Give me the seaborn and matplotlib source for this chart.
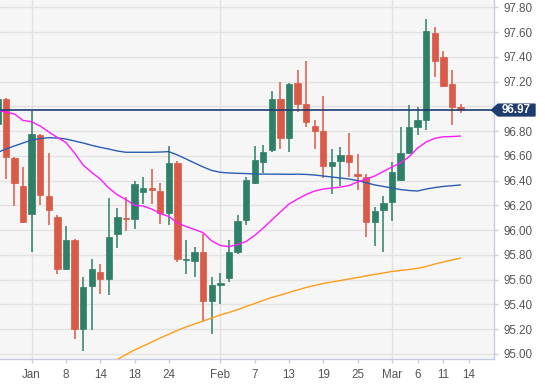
import numpy as np
import pandas as pd
import matplotlib
matplotlib.use("Agg")
import matplotlib.pyplot as plt
import matplotlib.transforms as mtransforms
from matplotlib.patches import Polygon
import seaborn as sns

# ---------------- data (trading-day index, 0 = 2 Jan) ----------------
day_index = list(range(-4, 51))

opens = [96.86, 97.06, 96.585, 96.357, 96.13, 96.77, 96.276, 96.108, 95.69, 95.918,
         95.20, 95.551, 95.662, 95.603, 95.966, 96.10, 96.09, 96.31, 96.335, 96.318,
         96.136, 96.54, 95.755, 95.753, 95.826, 95.43, 95.56, 95.613, 95.82, 96.082,
         96.378, 96.553, 96.647, 97.057, 96.742, 97.186, 97.017, 96.839, 96.80, 96.52,
         96.561, 96.607, 96.445, 96.432, 96.068, 96.163, 96.225, 96.405, 96.621, 96.831,
         96.89, 97.595, 97.396, 97.178, 96.997]
highs = [97.10, 97.07, 96.59, 96.508, 96.965, 96.78, 96.62, 96.12, 96.033, 95.93,
         95.62, 95.764, 95.726, 96.257, 96.176, 96.27, 96.40, 96.427, 96.49, 96.38,
         96.68, 96.558, 95.92, 95.866, 95.966, 95.62, 95.656, 95.92, 96.12, 96.43,
         96.68, 96.688, 97.124, 97.194, 97.185, 97.294, 97.366, 96.89, 97.084, 96.653,
         96.669, 96.782, 96.613, 96.453, 96.19, 96.278, 96.548, 96.831, 97.01, 96.992,
         97.703, 97.643, 97.447, 97.294, 97.016]
lows = [96.80, 96.41, 96.195, 96.06, 95.82, 96.20, 96.04, 95.646, 95.68, 95.118,
        95.026, 95.193, 95.482, 95.474, 95.853, 95.995, 96.007, 96.21, 96.21, 96.05,
        96.04, 95.745, 95.643, 95.62, 95.26, 95.16, 95.40, 95.58, 95.81, 96.04,
        96.37, 96.459, 96.629, 96.653, 96.63, 96.952, 96.836, 96.655, 96.419, 96.29,
        96.357, 96.427, 96.324, 95.947, 95.874, 95.821, 96.076, 96.40, 96.615, 96.768,
        96.809, 97.239, 97.16, 96.849, 96.945]
closes = [97.06, 96.59, 96.38, 96.063, 96.777, 96.28, 96.163, 95.69, 95.918, 95.20,
          95.543, 95.689, 95.603, 95.947, 96.108, 96.09, 96.37, 96.338, 96.325, 96.136,
          96.54, 95.765, 95.765, 95.826, 95.43, 95.557, 95.575, 95.821, 96.076, 96.405,
          96.567, 96.634, 97.057, 96.742, 97.18, 97.019, 96.871, 96.80, 96.52, 96.548,
          96.607, 96.548, 96.44, 96.068, 96.155, 96.217, 96.467, 96.621, 96.831, 96.89,
          97.609, 97.369, 97.164, 96.997, 96.97]

ma_fast = [96.966, 96.954, 96.938, 96.886, 96.876, 96.841, 96.793, 96.748, 96.708, 96.623,
           96.526, 96.466, 96.413, 96.34, 96.284, 96.247, 96.20, 96.195, 96.17, 96.134,
           96.11, 96.058, 96.029, 96.005, 95.979, 95.912, 95.876, 95.866, 95.884, 95.908,
           95.957, 96.017, 96.082, 96.147, 96.211, 96.251, 96.288, 96.316, 96.332, 96.34,
           96.348, 96.36, 96.389, 96.413, 96.437, 96.474, 96.51, 96.542, 96.593, 96.663,
           96.712, 96.742, 96.754, 96.756, 96.76]
ma_mid = [96.627, 96.655, 96.68, 96.704, 96.728, 96.739, 96.747, 96.744, 96.736, 96.72,
          96.704, 96.685, 96.669, 96.655, 96.639, 96.629, 96.629, 96.629, 96.629, 96.631,
          96.634, 96.607, 96.575, 96.542, 96.51, 96.482, 96.467, 96.462, 96.459, 96.457,
          96.453, 96.453, 96.452, 96.452, 96.451, 96.452, 96.45, 96.445, 96.437, 96.429,
          96.421, 96.413, 96.40, 96.383, 96.365, 96.353, 96.34, 96.328, 96.32, 96.316,
          96.332, 96.344, 96.353, 96.359, 96.365]
ma_slow = [np.nan] * 14 + [94.955, 94.995, 95.032, 95.064, 95.096, 95.129, 95.159, 95.19,
          95.218, 95.242, 95.266, 95.29, 95.315, 95.335, 95.357, 95.383, 95.407, 95.432,
          95.456, 95.476, 95.496, 95.517, 95.537, 95.553, 95.569, 95.581, 95.593, 95.605,
          95.617, 95.63, 95.642, 95.654, 95.666, 95.674, 95.682, 95.692, 95.706, 95.726,
          95.743, 95.759, 95.773]

tick_idx = [0, 4, 8, 12, 16, 22, 26, 30, 34, 38, 42, 45, 48, 51]
tick_labels = ["Jan", "8", "14", "18", "24", "Feb", "7", "13", "19", "25", "Mar", "6", "11", "14"]
month_idx = [0, 22, 42]
y_ticks = [95.0, 95.2, 95.4, 95.6, 95.8, 96.0, 96.2, 96.4, 96.6, 96.8, 97.0, 97.2, 97.4, 97.6, 97.8]
last_price = 96.97

# ---------------- style ----------------
sns.set_style("white")
plt.rcParams["font.family"] = ["Liberation Sans", "DejaVu Sans"]

UP = "#2f8068"
DOWN = "#d95a47"
GRID = "#e2e2e2"
SPINE = "#c8cce2"
NAVY = "#1f3c70"

fig = plt.figure(figsize=(5.45, 3.88), dpi=100)
fig.patch.set_facecolor("white")
ax = fig.add_axes([0, 29 / 388, 494 / 545, 359 / 388])
ax.set_facecolor("#f6f6f6")

df = pd.DataFrame({"day": day_index, "open": opens, "high": highs, "low": lows,
                   "close": closes, "fast": ma_fast, "mid": ma_mid, "slow": ma_slow})
df["up"] = df["close"] >= df["open"]
df["color"] = np.where(df["up"], UP, DOWN)
df["bottom"] = df[["open", "close"]].min(axis=1)
df["height"] = (df["close"] - df["open"]).abs().clip(lower=0.012)

# grid
for y in y_ticks:
    ax.axhline(y, color=GRID, lw=1, zorder=0)
for m in month_idx:
    ax.axvline(m, color=GRID, lw=1, zorder=0)

# candles
ax.vlines(df["day"], df["low"], df["high"], colors=df["color"], lw=1.1, zorder=2)
ax.bar(df["day"], df["height"], bottom=df["bottom"], width=0.74,
       color=df["color"], edgecolor=df["color"], linewidth=0.5, zorder=3)

# moving averages
sns.lineplot(data=df, x="day", y="slow", ax=ax, color="#ff9c1a", lw=1.0, estimator=None, zorder=4)
sns.lineplot(data=df, x="day", y="mid", ax=ax, color="#2a5db0", lw=1.0, estimator=None, zorder=4)
sns.lineplot(data=df, x="day", y="fast", ax=ax, color="#ff1aff", lw=1.0, estimator=None, zorder=4)

# current price line
ax.axhline(last_price, color=NAVY, lw=1.2, zorder=5)

ax.set_xlim(-3.69, 53.9)
ax.set_ylim(94.959, 97.859)
ax.set_xlabel("")
ax.set_ylabel("")

ax.yaxis.tick_right()
ax.set_yticks(y_ticks)
# the price tag covers the label nearest to the last price
ax.set_yticklabels(["" if abs(v - last_price) < 0.1 else f"{v:.2f}" for v in y_ticks])
ax.set_xticks(tick_idx)
ax.set_xticklabels(tick_labels)
ax.tick_params(axis="y", which="both", direction="out", length=3, width=1, color=SPINE,
               labelcolor="#555555", labelsize=8.4, pad=4, right=True, left=False)
ax.tick_params(axis="x", which="both", direction="out", length=3, width=1, color=SPINE,
               labelcolor="#555555", labelsize=8.4, pad=4, bottom=True)

for s in ["left", "top"]:
    ax.spines[s].set_visible(False)
for s in ["right", "bottom"]:
    ax.spines[s].set_visible(True)
    ax.spines[s].set_color(SPINE)
    ax.spines[s].set_linewidth(1)

# price tag
trans = mtransforms.blended_transform_factory(ax.transAxes, ax.transData)
hh = 5.9 / 123.8
tag = Polygon([[491.5 / 494, last_price], [498.0 / 494, last_price + hh],
               [535.0 / 494, last_price + hh], [535.0 / 494, last_price - hh],
               [498.0 / 494, last_price - hh]],
              closed=True, transform=trans, facecolor=NAVY, edgecolor=NAVY,
              clip_on=False, zorder=6)
ax.add_patch(tag)
ax.text(516.5 / 494, last_price, f"{last_price:.2f}", transform=trans, color="white",
        fontweight="bold", fontsize=8.4, ha="center", va="center", clip_on=False, zorder=7)

fig.savefig("out.png", dpi=100, facecolor="white")
